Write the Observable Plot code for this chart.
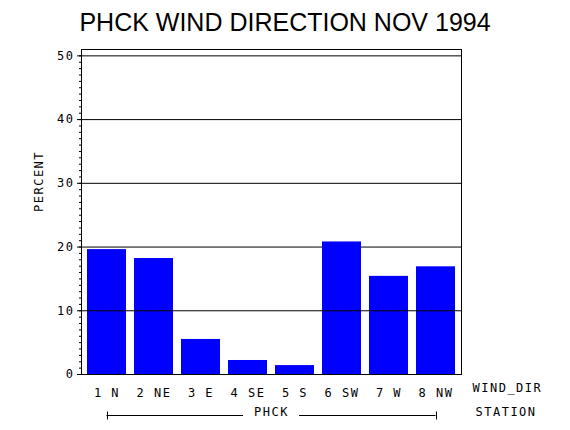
<!DOCTYPE html>
<html><head><meta charset="utf-8">
<script src="https://cdn.jsdelivr.net/npm/d3@7"></script>
<script src="https://cdn.jsdelivr.net/npm/@observablehq/plot@0.6"></script>
<style>
body{margin:0;background:#fff;}
#title{width:570px;height:30px;padding-top:10px;text-align:center;font-family:"Liberation Sans",Arial,sans-serif;font-size:25px;line-height:25px;color:#000;}
</style></head><body>
<div id="title">PHCK WIND DIRECTION NOV 1994</div>
<div id="chart"></div>
<script>
const windDir = ["1 N", "2 NE", "3 E", "4 SE", "5 S", "6 SW", "7 W", "8 NW"];
const percent = [19.6, 18.2, 5.5, 2.2, 1.4, 20.8, 15.4, 16.9];
const majorTicks = [0, 10, 20, 30, 40, 50];
const minorTicks = d3.range(0, 51, 1);
const gridUnder = [20, 30, 40, 50];
const gridOver = [10];
const station = "PHCK";
const xLabel = "WIND_DIR";
const groupLabel = "STATION";
const yLabel = "PERCENT";

const data = windDir.map((d, i) => ({dir: d, pct: percent[i]}));
const W = 570, H = 390, mT = 9, mB = 56, mL = 81, mR = 109;

const chart = Plot.plot({
  width: W, height: H, marginTop: mT, marginBottom: mB, marginLeft: mL, marginRight: mR,
  style: "font-family:'DejaVu Sans Mono',monospace;font-size:12px;letter-spacing:1.5px;background:white;color:black;",
  x: {domain: windDir, paddingInner: 0.18, paddingOuter: 0.1, label: null},
  y: {domain: [0, 51], label: null},
  marks: [
    Plot.gridY(gridUnder, {stroke: "black", strokeOpacity: 1, strokeWidth: 1}),
    Plot.barY(data, {x: "dir", y: "pct", fill: "#0000ff"}),
    Plot.gridY(gridOver, {stroke: "black", strokeOpacity: 1, strokeWidth: 1}),
    Plot.frame({stroke: "black"}),
    Plot.axisY(minorTicks, {tickSize: 2, tickFormat: () => "", label: null}),
    Plot.axisY(majorTicks, {tickSize: 4, tickPadding: 3, label: null}),
    Plot.axisX({tickSize: 0, tickPadding: 13.5, label: null}),
    Plot.text([yLabel], {frameAnchor: "left", rotate: -90, dx: -42.5, fill: "black"}),
    Plot.text([xLabel], {frameAnchor: "bottom-right", textAnchor: "start", dx: 11, dy: 17.5, fill: "black"}),
    Plot.text([groupLabel], {frameAnchor: "bottom-right", textAnchor: "start", dx: 14, dy: 41, fill: "black"}),
    Plot.text([station], {frameAnchor: "bottom", dy: 41, fill: "black"})
  ]
});
document.getElementById("chart").appendChild(chart);

// station bracket below the wind direction labels, placed with the plot's x scale
const sx = chart.scale("x");
const bw = sx.bandwidth;
const xa = sx.apply(windDir[0]) + bw / 2;
const xb = sx.apply(windDir[windDir.length - 1]) + bw / 2;
const cx = (xa + xb) / 2;
const yb = H - mB + 41 + 0.5;
const gap = 28;
const g = d3.select(chart).append("g").attr("stroke", "black").attr("stroke-width", 1);
g.append("line").attr("x1", xa).attr("x2", cx - gap).attr("y1", yb).attr("y2", yb);
g.append("line").attr("x1", cx + gap).attr("x2", xb).attr("y1", yb).attr("y2", yb);
g.append("line").attr("x1", Math.round(xa) + 0.5).attr("x2", Math.round(xa) + 0.5).attr("y1", yb - 4).attr("y2", yb + 4);
g.append("line").attr("x1", Math.round(xb) + 0.5).attr("x2", Math.round(xb) + 0.5).attr("y1", yb - 4).attr("y2", yb + 4);
</script>
</body></html>
